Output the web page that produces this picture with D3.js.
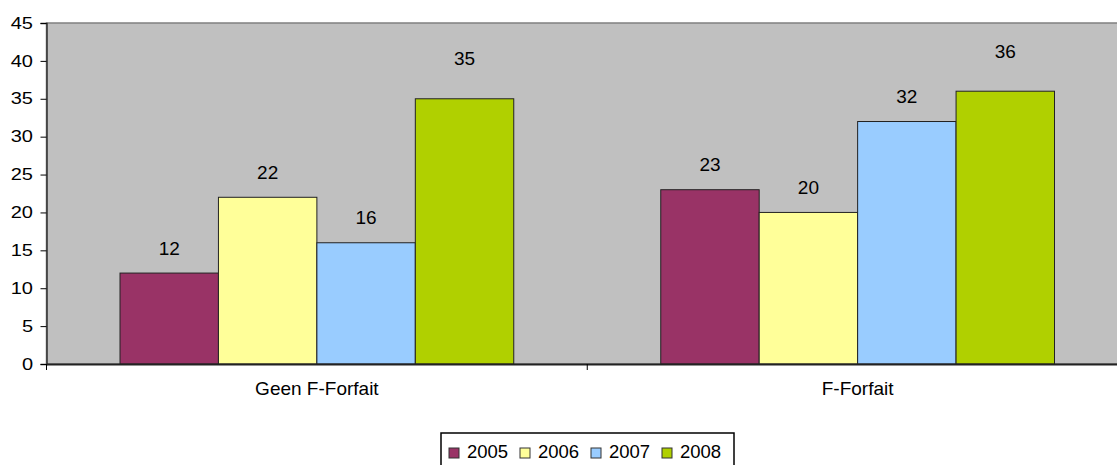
<!DOCTYPE html>
<html>
<head>
<meta charset="utf-8">
<script src="https://cdn.jsdelivr.net/npm/d3@7"></script>
<style>
  body { margin: 0; background: #fff; }
  text { font-family: "Liberation Sans", Arial, sans-serif; fill: #000; }
</style>
</head>
<body>
<svg id="chart" width="1117" height="465"></svg>
<script>
    var categories = ["Geen F-Forfait", "F-Forfait"];
    var years = ["2005", "2006", "2007", "2008"];
    var values2005 = [12, 23];
    var values2006 = [22, 20];
    var values2007 = [16, 32];
    var values2008 = [35, 36];
    var yTicks = [0, 5, 10, 15, 20, 25, 30, 35, 40, 45];
    var colors = ["#993366", "#ffff99", "#99ccff", "#b0d000"];

    var series = [values2005, values2006, values2007, values2008];

    var svg = d3.select("#chart");
    var plotL = 46.5, plotT = 23, plotB = 364, plotR = 1128;

    var x0 = d3.scaleBand().domain(categories).range([plotL, plotR]).paddingInner(0).paddingOuter(0);
    var x1 = d3.scaleBand().domain(years).range([73.5, x0.bandwidth() - 73.5]).padding(0);
    var y = d3.scaleLinear().domain([0, 45]).range([plotB, plotT]);

    // plot area
    svg.append("rect")
        .attr("x", plotL).attr("y", plotT)
        .attr("width", plotR - plotL).attr("height", plotB - plotT)
        .style("fill", "#c0c0c0")
        .style("stroke", "#808080")
        .style("stroke-width", 1.5);

    // bars
    var groups = svg.selectAll(".grp")
        .data(categories)
        .enter().append("g")
        .attr("class", "grp")
        .attr("transform", function(d) { return "translate(" + x0(d) + ",0)"; });

    groups.each(function(cat, ci) {
        var g = d3.select(this);
        years.forEach(function(yr, si) {
            var v = series[si][ci];
            g.append("rect")
                .attr("x", x1(yr))
                .attr("y", y(v))
                .attr("width", x1.bandwidth())
                .attr("height", y(0) - y(v))
                .style("fill", colors[si])
                .style("stroke", "#222")
                .style("stroke-width", 1);
            // excel pushes the tallest labels up a bit more
            var off = v > 33 ? 40 : 25;
            g.append("text")
                .attr("x", x1(yr) + x1.bandwidth() / 2)
                .attr("y", y(v) - off)
                .attr("dy", "0.35em")
                .attr("text-anchor", "middle")
                .style("font-size", "19px")
                .text(v);
        });
    });

    // y axis
    var yAxis = svg.append("g")
        .attr("transform", "translate(" + plotL + ",0)")
        .call(d3.axisLeft(y).tickValues(yTicks).tickSize(6).tickPadding(7.5));
    yAxis.select(".domain").style("stroke", "#333").style("stroke-width", 1.5);
    yAxis.selectAll(".tick line").style("stroke", "#000");
    // tick labels look horizontally stretched in the original
    yAxis.selectAll("text")
        .style("font-size", "16px")
        .style("font-family", "Liberation Sans, Arial, sans-serif")
        .style("fill", "#000")
        .attr("x", -13.5 / 1.25)
        .attr("transform", "scale(1.25,1)");

    // x axis
    var xAxis = svg.append("g")
        .attr("transform", "translate(0," + plotB + ")")
        .call(d3.axisBottom(x0).tickSize(0).tickPadding(18));
    xAxis.select(".domain").style("stroke", "#222").style("stroke-width", 2);
    xAxis.selectAll("text").style("font-size", "19px").style("font-family", "Liberation Sans, Arial, sans-serif");
    xAxis.selectAll(".sep")
        .data([plotL, x0(categories[1])])
        .enter().append("line")
        .attr("x1", function(d) { return d; }).attr("x2", function(d) { return d; })
        .attr("y1", 0).attr("y2", 6)
        .style("stroke", "#000");

    // legend
    var legend = svg.append("g").attr("transform", "translate(441,433)");
    legend.append("rect")
        .attr("width", 293).attr("height", 40)
        .style("fill", "#fff").style("stroke", "#000").style("stroke-width", 1.5);
    var lx = [8, 79, 150, 221];
    years.forEach(function(yr, i) {
        legend.append("rect")
            .attr("x", lx[i]).attr("y", 15)
            .attr("width", 10).attr("height", 10)
            .style("fill", colors[i]).style("stroke", "#333");
        legend.append("text")
            .attr("x", lx[i] + 18).attr("y", 19)
            .attr("dy", "0.35em")
            .style("font-size", "18.5px")
            .text(yr);
    });
</script>
</body>
</html>
